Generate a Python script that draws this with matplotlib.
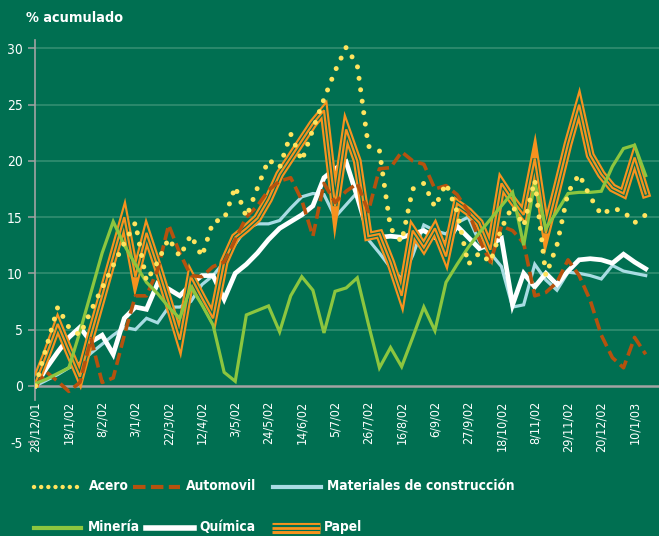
import matplotlib
matplotlib.use("Agg")
import matplotlib.pyplot as plt
from matplotlib.lines import Line2D
from matplotlib import font_manager
import numpy as np

# ---------------- data (weekly, % acumulado) ----------------
fechas = ["28/12/01", "18/1/02", "8/2/02", "3/1/02", "22/3/02", "12/4/02", "3/5/02",
          "24/5/02", "14/6/02", "5/7/02", "26/7/02", "16/8/02", "6/9/02", "27/9/02",
          "18/10/02", "8/11/02", "29/11/02", "20/12/02", "10/1/03"]

acero = [0, 3.5, 7.0, 5.2, 4.5, 6.7, 8.7, 10.7, 12.7, 14.5,
         9.3, 11.0, 13.1, 11.5, 13.4, 11.5, 14.6, 14.8, 17.7, 15.0,
         17.6, 20.1, 19.4, 22.4, 20.0, 22.8, 25.5, 28.0, 30.1, 28.5,
         21.3, 20.9, 14.0, 12.8, 17.5, 18.0, 15.9, 18.0, 15.5, 10.8,
         11.8, 11.0, 14.0, 16.0, 14.2, 18.3, 9.8, 12.5, 17.2, 18.8,
         16.8, 15.2, 15.8, 15.5, 14.5, 15.2]

automovil = [0, 1.2, 0.4, -0.5, 0.3, 4.2, 0.3, 0.7, 4.5, 8.0,
             8.0, 10.3, 14.3, 11.8, 9.8, 9.7, 10.6, 11.0, 13.0, 15.0,
             16.0, 17.4, 18.2, 18.5, 16.5, 13.3, 18.0, 16.3, 17.3, 18.0,
             15.5, 19.3, 19.4, 20.8, 20.0, 19.7, 17.5, 17.8, 17.0, 15.5,
             13.0, 11.0, 14.2, 13.8, 12.7, 8.0, 8.3, 9.2, 11.2, 9.8,
             7.6, 4.5, 2.5, 1.6, 4.3, 2.8]

materiales = [0, 0.5, 1.0, 1.6, 2.0, 2.9, 3.7, 4.5, 5.2, 5.0,
              6.0, 5.6, 7.0, 7.0, 7.5, 9.0, 9.8, 11.0, 12.6, 14.0,
              14.4, 14.4, 14.7, 15.8, 16.8, 17.1, 17.0, 15.0, 16.1, 17.2,
              13.0, 11.8, 10.5, 9.5, 11.6, 14.3, 13.8, 13.5, 14.5, 15.0,
              12.8, 11.8, 10.6, 7.0, 7.2, 10.8, 9.4, 8.5, 10.1, 10.0,
              9.8, 9.5, 10.7, 10.2, 10.0, 9.8]

mineria = [0.2, 0.6, 1.1, 1.6, 4.8, 8.3, 11.8, 14.6, 12.5, 10.8,
           9.2, 8.2, 7.0, 6.0, 8.8, 7.2, 5.4, 1.2, 0.4, 6.3,
           6.7, 7.1, 4.8, 8.0, 9.7, 8.5, 4.7, 8.4, 8.7, 9.6,
           5.5, 1.6, 3.4, 1.7, 4.3, 7.0, 4.9, 9.2, 10.8, 12.3,
           13.6, 14.8, 16.0, 17.2, 12.5, 18.1, 14.0, 15.5, 17.1, 17.2,
           17.2, 17.3, 19.5, 21.1, 21.4, 18.7]

quimica = [0, 1.6, 3.0, 4.3, 5.2, 3.9, 4.5, 2.8, 6.0, 7.0,
           6.8, 9.1, 8.6, 8.0, 9.0, 9.8, 9.8, 7.7, 10.0, 10.8,
           11.8, 13.0, 14.0, 14.6, 15.2, 16.0, 18.5, 19.3, 19.9, 16.8,
           13.5, 13.2, 13.3, 13.2, 13.5, 13.8, 13.2, 12.6, 14.2, 13.2,
           12.2, 12.6, 13.1, 7.2, 10.0, 8.8, 10.0, 9.0, 10.2, 11.2,
           11.3, 11.2, 10.9, 11.7, 11.0, 10.4]

papel = [0.3, 2.8, 5.5, 3.1, 0.8, 4.5, 8.0, 11.5, 15.0, 9.7,
         13.6, 10.6, 7.4, 4.1, 9.7, 7.8, 6.0, 11.0, 13.2, 14.0,
         14.9, 16.6, 18.8, 20.3, 21.8, 23.3, 24.5, 16.0, 22.8, 20.0,
         13.3, 13.5, 11.0, 8.0, 13.8, 12.3, 14.0, 11.5, 16.2, 15.5,
         14.5, 12.1, 18.0, 16.5, 15.2, 20.2, 13.6, 17.5, 21.5, 25.0,
         20.5, 18.8, 17.6, 17.1, 20.3, 17.1]

yticks = [-5, 0, 5, 10, 15, 20, 25, 30]

# ---------------- style ----------------
BG = "#006F51"
GRID = "#2E8B6E"
AXC = "#A3A3A3"
YELLOW = "#FFE45E"
BROWN = "#B5520E"
LBLUE = "#A8DCE3"
GREEN = "#8CC63F"
WHITE = "#FFFFFF"
ORANGE = "#F7921E"

# pick the narrowest installed sans family
installed = {f.name for f in font_manager.fontManager.ttflist}
cands = ["Noto Sans ExtraCondensed", "Noto Sans Condensed", "Liberation Sans Narrow",
         "DejaVu Sans"]
fams = [c for c in cands if c in installed] or ["DejaVu Sans"]
plt.rcParams["font.family"] = fams + (["DejaVu Sans"] if "DejaVu Sans" not in fams else [])
plt.rcParams["font.stretch"] = "condensed"
NARROW = fams[0] != "DejaVu Sans"
S = 1.0 if NARROW else 0.9

W, H = 659, 536
fig = plt.figure(figsize=(W / 100, H / 100), dpi=100, facecolor=BG)
ax = fig.add_axes([35 / W, (H - 442) / H, (W - 35) / W, (442 - 40) / H])
ax.set_facecolor(BG)

x = np.arange(len(acero))
ax.set_xlim(-0.05, 56.2)
ax.set_ylim(-5, 30.75)

# grid
for v in yticks:
    if v > 0:
        ax.axhline(v, color=GRID, lw=1.3, zorder=1)

# series
ax.plot(x, materiales, color=LBLUE, lw=2.3, solid_joinstyle="miter", zorder=3)
ax.plot(x, quimica, color=WHITE, lw=3.4, solid_joinstyle="miter", zorder=4)
ax.plot(x, papel, color=ORANGE, lw=6.4, solid_joinstyle="miter", zorder=5)
ax.plot(x, papel, color=BG, lw=3.3, solid_joinstyle="miter", zorder=5.1)
ax.plot(x, papel, color=ORANGE, lw=1.6, solid_joinstyle="miter", zorder=5.2)
ax.plot(x, automovil, color=BROWN, lw=2.6, linestyle=(0, (3.4, 1.5)),
        dash_capstyle="butt", zorder=6)
ax.plot(x, mineria, color=GREEN, lw=2.3, solid_joinstyle="miter", zorder=7)
ax.plot(x, acero, color=YELLOW, lw=3.6, linestyle=(0, (0.01, 2.3)),
        dash_capstyle="round", zorder=8)

# axes / spines
for s in ("top", "right"):
    ax.spines[s].set_visible(False)
ax.spines["bottom"].set_position(("data", 0))
ax.spines["bottom"].set_color(AXC)
ax.spines["bottom"].set_linewidth(1.8)
ax.spines["bottom"].set_zorder(2)
ax.spines["left"].set_color(AXC)
ax.spines["left"].set_linewidth(1.2)
ax.spines["left"].set_bounds(-1.3, 30.75)

ax.set_xticks(x[::3])
ax.set_xticklabels(fechas, rotation=90, color=WHITE, fontsize=10 * S, va="top", ha="center")
ax.tick_params(axis="x", length=0, pad=11)
ax.set_yticks(yticks)
ax.set_yticklabels([str(v) for v in yticks], color=WHITE, fontsize=11 * S)
ax.tick_params(axis="y", length=5, width=1.1, color=AXC, pad=4)

# title
fig.text(26 / W, 1 - 18 / H, "% acumulado", color=WHITE, fontsize=11.5 * S,
         fontweight="bold", va="center", ha="left")

# legend (manual)
def px(xp, yp):
    return xp / W, 1 - yp / H

def handle(x0, x1, y, **kw):
    (a, b), (c, d) = px(x0, y), px(x1, y)
    fig.add_artist(Line2D([a, c], [b, d], transform=fig.transFigure, **kw))

def label(x0, y, s):
    a, b = px(x0, y)
    fig.text(a, b, s, color=WHITE, fontsize=11 * S, fontweight="bold", va="center", ha="left")

r1, r2 = 487, 528
handle(34, 83, r1, color=YELLOW, lw=3.2, linestyle=(0, (0.01, 1.6)), dash_capstyle="round")
label(89, r1 - 1, "Acero")
handle(133, 180, r1, color=BROWN, lw=3.0, linestyle=(0, (3.0, 1.3)), dash_capstyle="butt")
label(186, r1 - 1, "Automovil")
handle(273, 321, r1, color=LBLUE, lw=3.0)
label(327, r1 - 1, "Materiales de construcción")
handle(34, 81, r2, color=GREEN, lw=3.0)
label(88, r2 - 1, "Minería")
handle(146, 194, r2, color=WHITE, lw=4.0)
label(199, r2 - 1, "Química")
handle(272, 320, r2, color=ORANGE, lw=8.0, solid_capstyle="butt")
handle(272, 320, r2, color=BG, lw=4.4, solid_capstyle="butt")
handle(272, 320, r2, color=ORANGE, lw=2.0, solid_capstyle="butt")
label(324, r2 - 1, "Papel")

fig.savefig("out.png", dpi=100, facecolor=BG)
